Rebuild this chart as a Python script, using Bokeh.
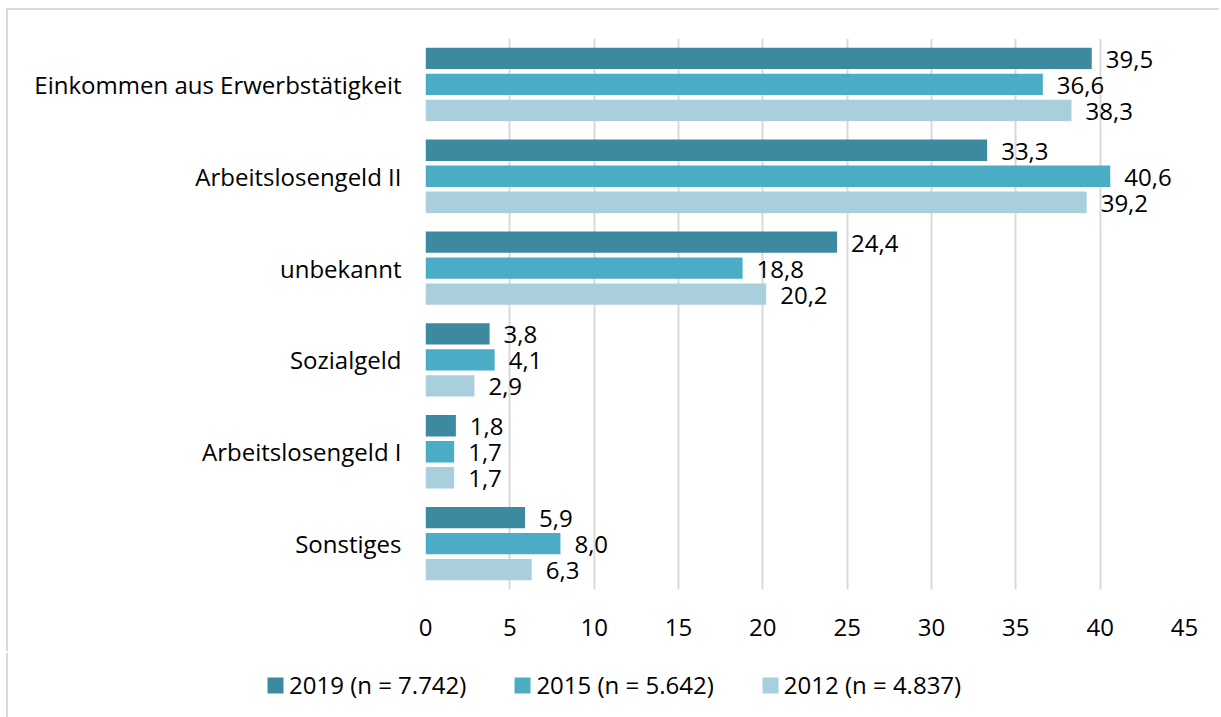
from bokeh.plotting import figure
from bokeh.models import (FactorRange, ColumnDataSource, Legend, LegendItem,
                          Range1d, FixedTicker)
from bokeh.transform import dodge
from bokeh.core.properties import value
from bokeh.embed import file_html
from bokeh.resources import INLINE

categories = ["Einkommen aus Erwerbstätigkeit", "Arbeitslosengeld II", "unbekannt",
              "Sozialgeld", "Arbeitslosengeld I", "Sonstiges"]
series_names = ["2019 (n = 7.742)", "2015 (n = 5.642)", "2012 (n = 4.837)"]
v2019 = [39.5, 33.3, 24.4, 3.8, 1.8, 5.9]
v2015 = [36.6, 40.6, 18.8, 4.1, 1.7, 8.0]
v2012 = [38.3, 39.2, 20.2, 2.9, 1.7, 6.3]
x_ticks = [0, 5, 10, 15, 20, 25, 30, 35, 40, 45]

colors = ["#3D8AA0", "#4BACC6", "#A9CFDD"]
FONT = "Open Sans"
FS = "24px"

W = 1213
H_MAIN = 643
H_LEG = 64

p = figure(width=W, height=H_MAIN,
           y_range=FactorRange(*reversed(categories)),
           x_range=Range1d(0, 45),
           output_backend="svg", toolbar_location=None,
           min_border_left=417, min_border_right=37,
           min_border_top=28, min_border_bottom=64)
p.styles = {"margin-left": "8px", "margin-top": "10px",
            "box-shadow": "-2px -2px 0 0 #d9d9d9"}
p.outline_line_color = None
p.background_fill_color = "white"
p.border_fill_color = "white"

pitch = 0.283
bar_h = 0.232
sources = []
for i, (name, vals) in enumerate(zip(series_names, [v2019, v2015, v2012])):
    off = (1 - i) * pitch
    src = ColumnDataSource(dict(cat=categories, v=vals,
                                lab=[f"{x:.1f}".replace(".", ",") for x in vals]))
    sources.append(src)
    p.hbar(y=dodge("cat", off, range=p.y_range), right="v", left=0,
           height=bar_h, source=src, fill_color=colors[i], line_color=None)
    p.text(x="v", y=dodge("cat", off, range=p.y_range), text="lab", source=src,
           x_offset=14, y_offset=1, text_baseline="middle", text_align="left",
           text_font=value(FONT), text_font_size=FS, text_color="black")

p.xgrid.ticker = FixedTicker(ticks=x_ticks)
p.xgrid.grid_line_color = "#d9d9d9"
p.xgrid.grid_line_width = 2
p.ygrid.grid_line_color = None

p.xaxis.ticker = FixedTicker(ticks=x_ticks)
for ax in (p.xaxis, p.yaxis):
    ax.axis_line_color = None
    ax.major_tick_line_color = None
    ax.minor_tick_line_color = None
    ax.major_tick_out = 0
    ax.major_tick_in = 0
    ax.major_label_text_font = FONT
    ax.major_label_text_font_size = FS
    ax.major_label_text_color = "black"
p.xaxis.major_label_standoff = 29
p.yaxis.major_label_standoff = 24

# legend strip below the chart (separate root, so it is not frame-aligned)
p2 = figure(width=W, height=H_LEG, x_range=Range1d(-2, -1), y_range=Range1d(0, 1),
            output_backend="svg", toolbar_location=None,
            min_border_left=0, min_border_right=0,
            min_border_top=0, min_border_bottom=0)
p2.styles = {"margin-left": "8px", "box-shadow": "-2px 0 0 0 #d9d9d9"}
p2.axis.visible = False
p2.grid.grid_line_color = None
p2.outline_line_color = None
p2.background_fill_color = "white"
p2.border_fill_color = "white"
items = []
for i, name in enumerate(series_names):
    r = p2.hbar(y=0.5, right="v", left=0, height=0, source=sources[i],
                fill_color=colors[i], line_color=None)
    items.append(LegendItem(label=name, renderers=[r]))
legend = Legend(items=items, orientation="horizontal", location=(257, 16),
                glyph_width=20, glyph_height=20, label_standoff=4, spacing=46,
                padding=0, margin=0, border_line_color=None,
                background_fill_alpha=0,
                label_text_font=FONT, label_text_font_size=FS,
                label_text_color="black")
p2.add_layout(legend)

open("out.html", "w").write(file_html([p, p2], INLINE))
